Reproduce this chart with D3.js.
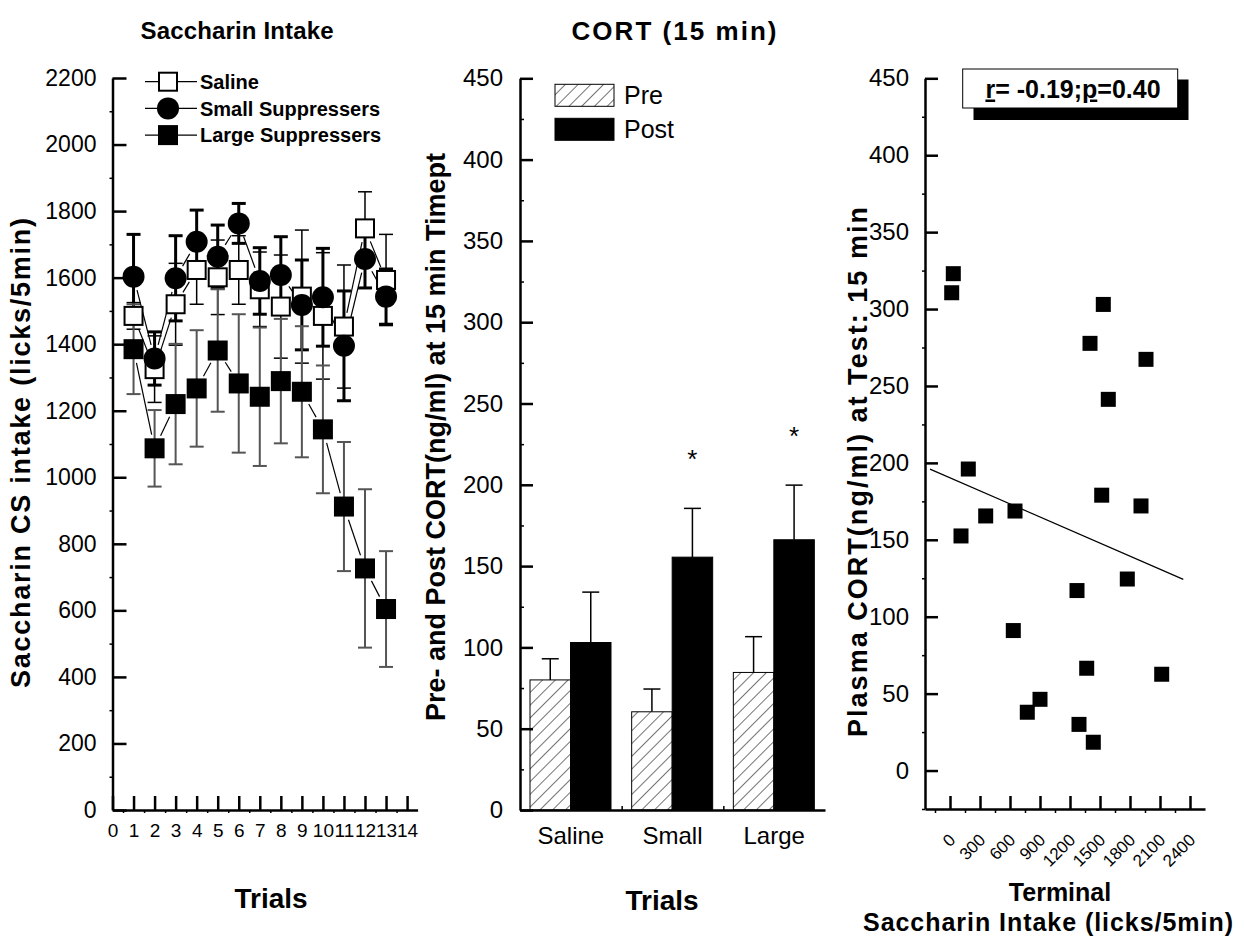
<!DOCTYPE html>
<html>
<head>
<meta charset="utf-8">
<script src="https://cdn.jsdelivr.net/npm/d3@7"></script>
<style>
  html, body { margin: 0; padding: 0; background: #fff; }
  svg { display: block; font-family: Arial, "Liberation Sans", Helvetica, sans-serif; }
  .axis .domain { stroke: #000; stroke-width: 2.5px; }
  .axis .tick line { stroke: #000; stroke-width: 2.5px; }
  .minor .tick line { stroke: #000; stroke-width: 1.5px; }
  .minor .domain { display: none; }
</style>
</head>
<body>
<svg id="chart" width="1244" height="943"></svg>
<script>
// ---- Saccharin intake across trials (mean ± SE) ----
const trials = [1, 2, 3, 4, 5, 6, 7, 8, 9, 10, 11, 12, 13];
const salineMean = [1485, 1325, 1520, 1623, 1601, 1623, 1565, 1513, 1543, 1485, 1453, 1748, 1593];
const salineSE   = [40, 100, 123, 103, 112, 103, 112, 155, 200, 190, 185, 110, 137];
const smallMean  = [1603, 1357, 1598, 1708, 1663, 1763, 1590, 1608, 1518, 1541, 1395, 1656, 1543];
const smallSE    = [127, 80, 128, 95, 95, 60, 100, 115, 135, 147, 165, 87, 83];
const largeMean  = [1385, 1087, 1220, 1267, 1381, 1282, 1242, 1289, 1257, 1144, 912, 726, 604];
const largeSE    = [135, 115, 181, 175, 184, 208, 208, 187, 197, 192, 194, 238, 174];
const trialTicks = [0, 1, 2, 3, 4, 5, 6, 7, 8, 9, 10, 11, 12, 13, 14];
const intakeTicks = [0, 200, 400, 600, 800, 1000, 1200, 1400, 1600, 1800, 2000, 2200];
const seriesNames = ["Saline", "Small Suppressers", "Large Suppressers"];

// ---- CORT 15 min, pre vs post (mean + SE) ----
const groups = ["Saline", "Small", "Large"];
const phases = ["Pre", "Post"];
const preMean  = [80, 60.4, 84.6];
const preSE    = [13, 14, 22];
const postMean = [103, 155.5, 166.2];
const postSE   = [31, 30, 33.6];
const sigMark  = ["", "*", "*"];
const cortTicks = [0, 50, 100, 150, 200, 250, 300, 350, 400, 450];

// ---- Terminal intake vs plasma CORT ----
const terminalIntake = [33, 17, 1533, 1400, 1960, 1583, 183, 1517, 1910, 650, 357, 110, 1773, 1270, 633, 1367, 2117, 900, 773, 1290, 1433];
const plasmaCort     = [323, 310.6, 303, 277.7, 267.3, 241.3, 196, 179, 172, 168.7, 165.5, 152.5, 124.5, 117, 91, 66.5, 62.6, 46.3, 37.9, 30, 18.4];
const intakeTicksR = [0, 300, 600, 900, 1200, 1500, 1800, 2100, 2400];
const fitRange = [-200, 2333];
const statText = { r: "-0.19", p: "0.40" };

const svg = d3.select("#chart");
const FONT_TICK = 24;
const plain = d3.format("d");

function styleTicks(g, size) {
  g.selectAll(".tick text").attr("font-size", size).attr("fill", "#000")
    .attr("font-family", 'Arial, "Liberation Sans", sans-serif');
}

function boldLabel(parent, x, y, text, size, rotate, length) {
  const t = parent.append("text")
    .attr("transform", `translate(${x},${y})` + (rotate ? " rotate(-90)" : ""))
    .attr("text-anchor", "middle").attr("font-size", size).attr("font-weight", "bold")
    .text(text);
  if (length) t.attr("textLength", length).attr("lengthAdjust", "spacing");
  return t;
}

// ================= Panel 1 =================
{
  const x = d3.scaleLinear().domain([0, 14.5]).range([112.5, 417.6]);
  const y = d3.scaleLinear().domain([0, 2200]).range([810, 78]);
  const p = svg.append("g");

  // axes
  p.append("g").attr("class", "axis minor").attr("transform", "translate(112.5,0)")
    .call(d3.axisLeft(y).tickValues(d3.range(100, 2200, 200)).tickSize(3).tickFormat(""));
  p.append("g").attr("class", "axis minor").attr("transform", "translate(0,810)")
    .call(d3.axisBottom(x).tickValues(d3.range(0.5, 14.5, 1)).tickSize(3).tickFormat(""));
  p.append("g").attr("class", "axis").attr("transform", "translate(112.5,0)")
    .call(d3.axisLeft(y).tickValues(intakeTicks).tickFormat(plain).tickSize(-14).tickSizeOuter(0).tickPadding(16))
    .call(g => styleTicks(g, 23));
  p.append("g").attr("class", "axis").attr("transform", "translate(0,810)")
    .call(d3.axisBottom(x).tickValues(trialTicks).tickFormat(plain).tickSize(-14).tickSizeOuter(0).tickPadding(14))
    .call(g => styleTicks(g, 19));

  const series = [
    { mean: salineMean, se: salineSE, shape: "open", bar: "#000", barW: 1.5 },
    { mean: smallMean, se: smallSE, shape: "circle", bar: "#000", barW: 3 },
    { mean: largeMean, se: largeSE, shape: "square", bar: "#555", barW: 2 }
  ];
  const capW = 14;

  // error bars
  series.forEach(s => {
    const g = p.append("g").attr("stroke", s.bar).attr("stroke-width", s.barW);
    trials.forEach((t, i) => {
      const cx = x(t), hi = y(s.mean[i] + s.se[i]), lo = y(s.mean[i] - s.se[i]);
      g.append("line").attr("x1", cx).attr("x2", cx).attr("y1", hi).attr("y2", lo);
      g.append("line").attr("x1", cx - capW / 2).attr("x2", cx + capW / 2).attr("y1", hi).attr("y2", hi);
      g.append("line").attr("x1", cx - capW / 2).attr("x2", cx + capW / 2).attr("y1", lo).attr("y2", lo);
    });
  });

  // connecting segments, stopped short of the markers
  series.forEach(s => {
    const g = p.append("g").attr("stroke", "#000").attr("stroke-width", 1.2);
    for (let i = 0; i < trials.length - 1; i++) {
      const x1 = x(trials[i]), y1 = y(s.mean[i]);
      const x2 = x(trials[i + 1]), y2 = y(s.mean[i + 1]);
      const dx = x2 - x1, dy = y2 - y1, len = Math.hypot(dx, dy);
      const gap = 14;
      if (len <= 2 * gap) continue;
      const ux = dx / len, uy = dy / len;
      g.append("line").attr("x1", x1 + ux * gap).attr("y1", y1 + uy * gap)
        .attr("x2", x2 - ux * gap).attr("y2", y2 - uy * gap);
    }
  });

  function marker(g, shape, cx, cy) {
    if (shape === "open") {
      g.append("rect").attr("x", cx - 9).attr("y", cy - 9).attr("width", 18).attr("height", 18)
        .attr("fill", "#fff").attr("stroke", "#000").attr("stroke-width", 2);
    } else if (shape === "circle") {
      g.append("circle").attr("cx", cx).attr("cy", cy).attr("r", 11).attr("fill", "#000");
    } else {
      g.append("rect").attr("x", cx - 10).attr("y", cy - 10).attr("width", 20).attr("height", 20)
        .attr("fill", "#000");
    }
  }

  series.forEach(s => {
    const g = p.append("g");
    trials.forEach((t, i) => marker(g, s.shape, x(t), y(s.mean[i])));
  });

  // legend
  const lg = p.append("g");
  seriesNames.forEach((name, i) => {
    const ly = 81.7 + i * 26.7;
    lg.append("line").attr("x1", 145).attr("x2", 197).attr("y1", ly).attr("y2", ly)
      .attr("stroke", "#000").attr("stroke-width", 1.2);
    marker(lg, series[i].shape, 168, ly);
    lg.append("text").attr("x", 200).attr("y", ly).attr("dy", "0.36em")
      .attr("font-size", 20).attr("font-weight", "bold").text(name);
  });

  boldLabel(p, 237, 39, "Saccharin Intake", 24, false, 193);
  boldLabel(p, 30, 453, "Saccharin CS intake (licks/5min)", 27, true, 470);
  boldLabel(p, 271, 908, "Trials", 28, false);
}

// ================= Panel 2 =================
{
  const x0 = d3.scaleBand().domain(groups).range([520, 825]).padding(0);
  const x1 = d3.scaleBand().domain(phases).range([10, 91]).padding(0);
  const y = d3.scaleLinear().domain([0, 450]).range([810, 78.3]);
  const p = svg.append("g");

  const defs = svg.append("defs");
  const pat = defs.append("pattern").attr("id", "hatch").attr("patternUnits", "userSpaceOnUse")
    .attr("width", 9).attr("height", 9).attr("patternTransform", "rotate(45)");
  pat.append("rect").attr("width", 9).attr("height", 9).attr("fill", "#fff");
  pat.append("line").attr("x1", 0).attr("y1", 0).attr("x2", 0).attr("y2", 9)
    .attr("stroke", "#000").attr("stroke-width", 1.1);

  const rows = groups.map((g, i) => [
    { group: g, phase: "Pre", v: preMean[i], se: preSE[i] },
    { group: g, phase: "Post", v: postMean[i], se: postSE[i] }
  ]).flat();

  // error bars (upper only)
  const eb = p.append("g").attr("stroke", "#000").attr("stroke-width", 1.5);
  rows.forEach(r => {
    const cx = x0(r.group) + x1(r.phase) + x1.bandwidth() / 2;
    const top = y(r.v + r.se);
    eb.append("line").attr("x1", cx).attr("x2", cx).attr("y1", y(r.v)).attr("y2", top);
    eb.append("line").attr("x1", cx - 8.5).attr("x2", cx + 8.5).attr("y1", top).attr("y2", top);
  });

  p.append("g").selectAll("rect").data(rows).join("rect")
    .attr("x", d => x0(d.group) + x1(d.phase))
    .attr("width", x1.bandwidth())
    .attr("y", d => y(d.v))
    .attr("height", d => y(0) - y(d.v))
    .attr("fill", d => d.phase === "Pre" ? "url(#hatch)" : "#000")
    .attr("stroke", "#000").attr("stroke-width", 1);

  // significance marks above the post bars
  groups.forEach((g, i) => {
    if (!sigMark[i]) return;
    const cx = x0(g) + x1("Post") + x1.bandwidth() / 2;
    p.append("text").attr("x", cx).attr("y", y(postMean[i] + postSE[i]) - 54 + 14)
      .attr("text-anchor", "middle").attr("font-size", 26).text(sigMark[i]);
  });

  // axes
  p.append("g").attr("class", "axis minor").attr("transform", "translate(520,0)")
    .call(d3.axisLeft(y).tickValues(d3.range(25, 450, 50)).tickSize(-4).tickFormat(""));
  p.append("g").attr("class", "axis").attr("transform", "translate(520,0)")
    .call(d3.axisLeft(y).tickValues(cortTicks).tickFormat(plain).tickSize(-13).tickSizeOuter(0).tickPadding(17))
    .call(g => styleTicks(g, FONT_TICK));
  p.append("g").attr("class", "axis").attr("transform", "translate(0,810)")
    .call(d3.axisBottom(x0).tickSize(0).tickSizeOuter(0).tickPadding(16.5))
    .call(g => styleTicks(g, FONT_TICK));
  p.append("g").attr("class", "axis minor").attr("transform", "translate(0,810)")
    .call(d3.axisBottom(d3.scaleLinear().domain([0, 3]).range([520, 825]))
      .tickValues([1, 2]).tickSize(-4).tickFormat(""));

  // legend
  const lg = p.append("g");
  phases.forEach((ph, i) => {
    const ly = 84.3 + i * 34;
    lg.append("rect").attr("x", 555).attr("y", ly).attr("width", 59).attr("height", 22)
      .attr("fill", ph === "Pre" ? "url(#hatch)" : "#000").attr("stroke", "#000").attr("stroke-width", 1);
    lg.append("text").attr("x", 624).attr("y", ly + 11).attr("dy", "0.36em")
      .attr("font-size", 25).text(ph);
  });

  boldLabel(p, 674, 40, "CORT (15 min)", 26, false, 205);
  boldLabel(p, 445, 437, "Pre- and Post CORT(ng/ml) at 15 min Timept", 27, true);
  boldLabel(p, 662, 910, "Trials", 28, false);
}

// ================= Panel 3 =================
{
  const x = d3.scaleLinear().domain([-250, 2550]).range([925, 1205]);
  const y = d3.scaleLinear().domain([-25, 450]).range([809, 78.3]);
  const p = svg.append("g");

  p.append("g").attr("class", "axis minor").attr("transform", "translate(925,0)")
    .call(d3.axisLeft(y).tickValues(d3.range(-25, 450, 50)).tickSize(3).tickFormat(""));
  p.append("g").attr("class", "axis minor").attr("transform", "translate(0,809)")
    .call(d3.axisBottom(x).tickValues(d3.range(-150, 2550, 300)).tickSize(4).tickFormat(""));
  p.append("g").attr("class", "axis").attr("transform", "translate(925,0)")
    .call(d3.axisLeft(y).tickValues(cortTicks).tickFormat(plain).tickSize(-13).tickSizeOuter(0).tickPadding(16))
    .call(g => styleTicks(g, FONT_TICK));
  const xa = p.append("g").attr("class", "axis").attr("transform", "translate(0,809)")
    .call(d3.axisBottom(x).tickValues(intakeTicksR).tickFormat(plain).tickSize(-13).tickSizeOuter(0));
  xa.selectAll(".tick text")
    .attr("y", 0).attr("dy", 0)
    .attr("text-anchor", "end")
    .attr("transform", "translate(6,32) rotate(-45)")
    .attr("font-size", 17).attr("fill", "#000");

  // least-squares fit through the points
  const mx = d3.mean(terminalIntake), my = d3.mean(plasmaCort);
  let sxy = 0, sxx = 0;
  terminalIntake.forEach((v, i) => { sxy += (v - mx) * (plasmaCort[i] - my); sxx += (v - mx) ** 2; });
  const slope = sxy / sxx, icpt = my - slope * mx;
  p.append("line")
    .attr("x1", x(fitRange[0])).attr("y1", y(icpt + slope * fitRange[0]))
    .attr("x2", x(fitRange[1])).attr("y2", y(icpt + slope * fitRange[1]))
    .attr("stroke", "#000").attr("stroke-width", 1.2);

  p.append("g").selectAll("rect").data(terminalIntake).join("rect")
    .attr("x", (d, i) => x(d) - 7.5).attr("y", (d, i) => y(plasmaCort[i]) - 7.5)
    .attr("width", 15).attr("height", 15).attr("fill", "#000");

  // statistic box with drop shadow
  p.append("rect").attr("x", 973.5).attr("y", 79.5).attr("width", 215).attr("height", 40.5).attr("fill", "#000");
  p.append("rect").attr("x", 962.7).attr("y", 69).attr("width", 215).attr("height", 39)
    .attr("fill", "#fff").attr("stroke", "#000").attr("stroke-width", 1);
  const st = p.append("text").attr("x", 1073).attr("y", 97.5).attr("text-anchor", "middle")
    .attr("font-size", 25).attr("font-weight", "bold");
  st.append("tspan").attr("text-decoration", "underline").text("r");
  st.append("tspan").text("= " + statText.r + ";");
  st.append("tspan").attr("text-decoration", "underline").text("p");
  st.append("tspan").text("=" + statText.p);

  boldLabel(p, 867, 472, "Plasma CORT(ng/ml) at Test: 15 min", 27, true, 530);
  boldLabel(p, 1060, 901, "Terminal", 25, false);
  boldLabel(p, 1048, 931, "Saccharin Intake (licks/5min)", 25, false, 370);
}
</script>
</body>
</html>
